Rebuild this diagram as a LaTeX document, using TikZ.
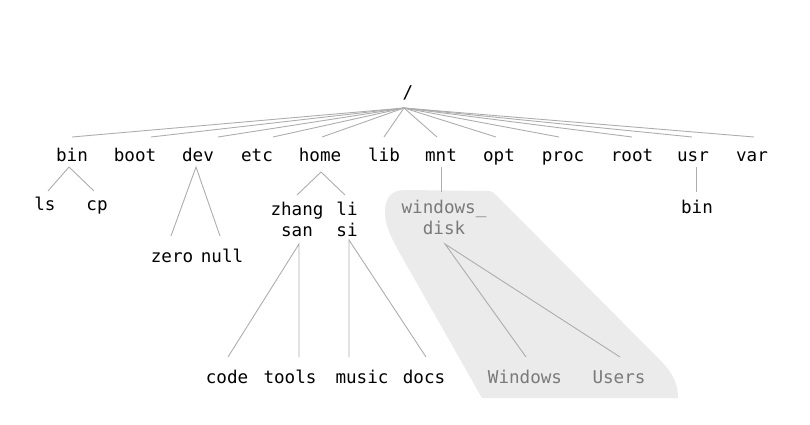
\documentclass[tikz,border=0pt]{standalone}
\usepackage{fontspec}
\setmainfont{DejaVu Sans Mono}
\definecolor{edgegray}{HTML}{ADADAD}
\definecolor{txtgray}{HTML}{7A7A7A}
\definecolor{fillgray}{HTML}{EBEBEB}
\newcommand{\twoline}[2]{\vtop{\baselineskip=21pt\halign{\hfil##\hfil\cr #1\cr #2\cr}}}
\tikzset{
  dir/.style={anchor=base, inner sep=0pt, text=black, font=\fontsize{17.6}{21}\selectfont},
  dimdir/.style={dir, text=txtgray},
  edge/.style={draw=edgegray, line width=0.9pt},
}
\begin{document}
\begin{tikzpicture}[x=1pt,y=-1pt]
\useasboundingbox (0,0) rectangle (810,425);
% highlighted region
\fill[fillgray] (482,398) -- (398,250) .. controls (390,235) and (385,225) .. (385,212)
  .. controls (385,197) and (392,190) .. (405,190) -- (488,191)
  .. controls (492,191) and (494,193) .. (497,196) -- (662,362)
  .. controls (674,375) and (678,385) .. (678,398) -- cycle;
% root
\node[dir] (root) at (408,99) {/};
% level 1
\node[dir] (bin)  at (72,161)  {bin};
\node[dir] (boot) at (135,161) {boot};
\node[dir] (dev)  at (198,161) {dev};
\node[dir] (etc)  at (257,161) {etc};
\node[dir] (home) at (320,161) {home};
\node[dir] (lib)  at (384,161) {lib};
\node[dir] (mnt)  at (441,161) {mnt};
\node[dir] (opt)  at (499,161) {opt};
\node[dir] (proc) at (563,161) {proc};
\node[dir] (rootd) at (632,161) {root};
\node[dir] (usr)  at (693,161) {usr};
\node[dir] (var)  at (752,161) {var};
% level 2
\node[dir] (ls)   at (45,210)  {ls};
\node[dir] (cp)   at (97,210)  {cp};
\node[dir] (zero) at (172,262) {zero};
\node[dir] (null) at (222,262) {null};
\node[dir] (zhang) at (297,215) {\twoline{zhang}{san}};
\node[dir] (li)   at (347,215) {\twoline{li}{si}};
\node[dimdir] (wdisk) at (444,213) {\twoline{windows\_}{disk}};
\node[dir] (ubin) at (697,213) {bin};
% level 3
\node[dir] (code)  at (227,383) {code};
\node[dir] (tools) at (290,383) {tools};
\node[dir] (music) at (362,383) {music};
\node[dir] (docs)  at (424,383) {docs};
\node[dimdir] (win)   at (525,383) {Windows};
\node[dimdir] (users) at (619,383) {Users};
% edges from root
\coordinate (rtop) at ([shift={(-4,9)}]root.base);
\foreach \c/\dx in {bin/0, boot/16, dev/20, etc/16, home/2, lib/0, mnt/-4, opt/-3, proc/-4, rootd/0, usr/-1, var/2}
  \draw[edge] (rtop) -- ([shift={(\dx,-24)}]\c.base);
% bin
\draw[edge] ([shift={(3,-19)}]ls.base) -- ([shift={(-3,6)}]bin.base) -- ([shift={(-3,-19)}]cp.base);
% dev
\draw[edge] ([shift={(-1,-26)}]zero.base) -- ([shift={(-2,6)}]dev.base) -- ([shift={(-2,-26)}]null.base);
% home
\draw[edge] ([shift={(0,-20)}]zhang.base) -- ([shift={(1,11)}]home.base) -- ([shift={(-2,-20)}]li.base);
% zhang san
\draw[edge] ([shift={(1,-26)}]code.base) -- ([shift={(2,29)}]zhang.base) -- ([shift={(9,-26)}]tools.base);
% li si
\draw[edge] ([shift={(-13,-26)}]music.base) -- ([shift={(2,25)}]li.base) -- ([shift={(2,-26)}]docs.base);
% mnt
\draw[edge] ([shift={(0,6)}]mnt.base) -- ([shift={(-3,-21)}]wdisk.base);
% windows_disk
\draw[edge] ([shift={(1,-26)}]win.base) -- ([shift={(1,31)}]wdisk.base) -- ([shift={(1,-26)}]users.base);
% usr
\draw[edge] ([shift={(3,6)}]usr.base) -- ([shift={(-1,-21)}]ubin.base);
\end{tikzpicture}
\end{document}
